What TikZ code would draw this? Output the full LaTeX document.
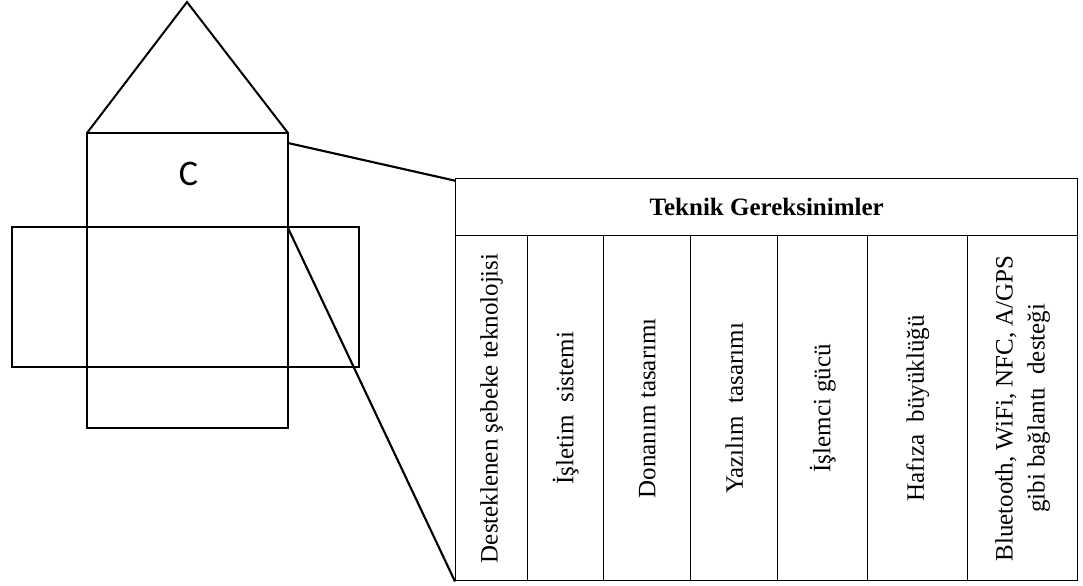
\documentclass[tikz,border=0pt]{standalone}
\usepackage{fontspec}
\setmainfont{Liberation Serif}
\newfontfamily\labelfont{Carlito}
\begin{document}
\begin{tikzpicture}[x=0.75pt,y=-0.75pt,
  netline/.style={line width=2.2pt, line join=miter},
  roofline/.style={line width=1.5pt},
  link/.style={line width=1.6pt},
  cell/.style={draw, line width=1.1pt, inner sep=0pt, anchor=north west, minimum height=258.75pt},
  hdr/.style={draw, line width=1.1pt, inner sep=0pt, anchor=north west, minimum width=466.5pt, minimum height=42.75pt,
    font=\fontsize{18.75}{22}\selectfont\bfseries},
  celltext/.style={rotate=90, inner sep=0pt, align=center, font=\fontsize{18.75}{24}\selectfont}]
\useasboundingbox (0,0) rectangle (1083,586);

% net of the box: roof triangle, long strip and side flaps
\coordinate (apex) at (187,2);
\coordinate (roofL) at (87,133);
\coordinate (roofR) at (288,133);
\draw[roofline] (roofL) -- (apex) -- (roofR);
\draw[netline] (12,227) rectangle (359,367);
\draw[netline] (87,133) rectangle (288,428);
\node[font=\labelfont\fontsize{27}{30}\selectfont, inner sep=0pt] (lab) at (188.5,173.5) {C};
\coordinate (faceTop) at (288,143);
\coordinate (faceMid) at (288,228);

% table of technical requirements
\node[hdr] (head) at (455,178) {Teknik Gereksinimler};
\node[cell, minimum width=54pt]    (c1) at (455,235) {};
\node[cell, minimum width=57pt]    (c2) at (527,235) {};
\node[cell, minimum width=65.25pt] (c3) at (603,235) {};
\node[cell, minimum width=65.25pt] (c4) at (690,235) {};
\node[cell, minimum width=67.5pt]  (c5) at (777,235) {};
\node[cell, minimum width=75pt]    (c6) at (867,235) {};
\node[cell, minimum width=82.5pt]  (c7) at (967,235) {};

\node[celltext] (t1) at (c1.center) {Desteklenen şebeke teknolojisi};
\node[celltext] (t2) at (c2.center) {İşletim\ \ sistemi};
\node[celltext] (t3) at (c3.center) {Donanım tasarımı};
\node[celltext] (t4) at (c4.center) {Yazılım\ \ tasarımı};
\node[celltext] (t5) at (c5.center) {İşlemci gücü};
\node[celltext] (t6) at (c6.center) {Hafıza\ \ büyüklüğü};
\node[celltext] (t7) at (c7.center) {Bluetooth, WiFi, NFC, A/GPS\\gibi bağlantı\ \ desteği};

% leader lines from the face to the table
\draw[link] (faceTop) -- ([yshift=-2pt]head.north west);
\draw[link] (faceMid) -- (c1.south west);
\end{tikzpicture}
\end{document}
